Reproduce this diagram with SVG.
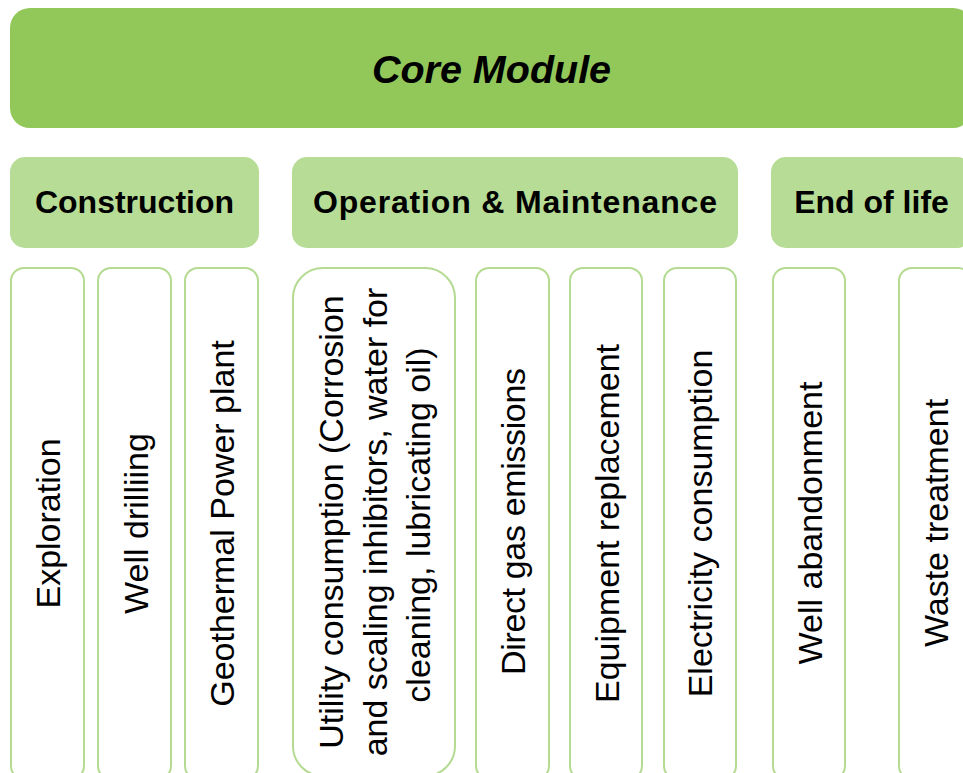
<svg xmlns="http://www.w3.org/2000/svg" width="963" height="773" viewBox="0 0 963 773">
<style>
.core{fill:#92C85A}
.head{fill:#B7DC95}
.item{fill:#FFFFFF;stroke:#B5DA92;stroke-width:2}
.t{font-family:"Liberation Sans",Arial,sans-serif;fill:#000}
.tc{font-size:39.5px;font-weight:bold;font-style:italic;text-anchor:middle}
.th{font-size:32px;font-weight:bold;text-anchor:middle}
.tv{font-size:34px;text-anchor:middle}
</style>
<rect width="963" height="773" fill="#FFFFFF"/>
<g id="core-module">
<rect class="core" x="10" y="8" width="963" height="120" rx="20"/>
<text class="t tc" x="491.5" y="83">Core Module</text>
</g>
<g id="construction">
<rect class="head" x="10" y="157" width="249" height="91" rx="15"/>
<text class="t th" x="134.5" y="213">Construction</text>
</g>
<g id="operation-maintenance">
<rect class="head" x="292" y="157" width="446" height="91" rx="15"/>
<text class="t th" x="515" y="213" textLength="404" lengthAdjust="spacing">Operation &amp; Maintenance</text>
</g>
<g id="end-of-life">
<rect class="head" x="771" y="157" width="201" height="91" rx="15"/>
<text class="t th" x="871.5" y="213">End of life</text>
</g>
<g id="exploration">
<rect class="item" x="11" y="268" width="73" height="511" rx="13"/>
<text class="t tv" transform="translate(60,523.5) rotate(-90)">Exploration</text>
</g>
<g id="well-drilling">
<rect class="item" x="98" y="268" width="73" height="511" rx="13"/>
<text class="t tv" transform="translate(148,523.5) rotate(-90)">Well drilliing</text>
</g>
<g id="geothermal-power-plant">
<rect class="item" x="185" y="268" width="73" height="511" rx="13"/>
<text class="t tv" transform="translate(234,523.5) rotate(-90)">Geothermal Power plant</text>
</g>
<g id="utility-consumption">
<rect class="item" x="293" y="268" width="162" height="508" rx="30"/>
<text class="t tv" transform="translate(343,522) rotate(-90)">Utility consumption (Corrosion</text>
<text class="t tv" transform="translate(386.5,522) rotate(-90)">and scaling inhibitors, water for</text>
<text class="t tv" transform="translate(430,525) rotate(-90)">cleaning, lubricating oil)</text>
</g>
<g id="direct-gas-emissions">
<rect class="item" x="476" y="268" width="73" height="511" rx="13"/>
<text class="t tv" transform="translate(525,521.5) rotate(-90)" textLength="307" lengthAdjust="spacing">Direct gas emissions</text>
</g>
<g id="equipment-replacement">
<rect class="item" x="570" y="268" width="72" height="511" rx="13"/>
<text class="t tv" transform="translate(619,523.5) rotate(-90)">Equipment replacement</text>
</g>
<g id="electricity-consumption">
<rect class="item" x="664" y="268" width="72" height="511" rx="13"/>
<text class="t tv" transform="translate(712,523.5) rotate(-90)">Electricity consumption</text>
</g>
<g id="well-abandonment">
<rect class="item" x="773" y="268" width="72" height="511" rx="13"/>
<text class="t tv" transform="translate(822,523) rotate(-90)">Well abandonment</text>
</g>
<g id="waste-treatment">
<rect class="item" x="899" y="268" width="72" height="511" rx="13"/>
<text class="t tv" transform="translate(948,523) rotate(-90)">Waste treatment</text>
</g>
<g id="connectors"></g>
</svg>
